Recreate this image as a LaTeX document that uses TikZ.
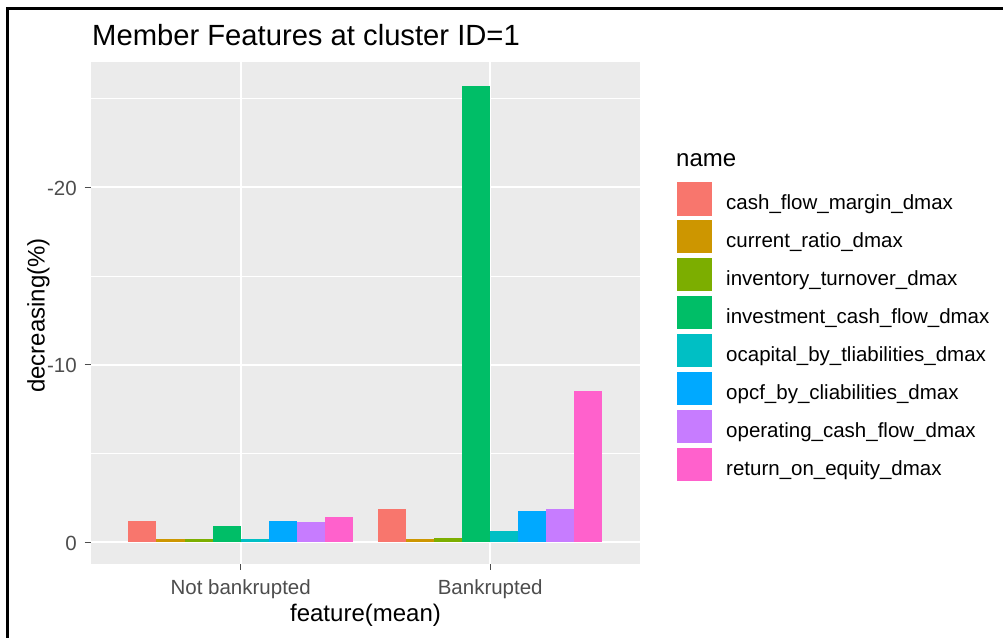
\documentclass[tikz,border=0pt]{standalone}
\usepackage{fontspec}
\setmainfont{Liberation Sans}
\definecolor{k1}{HTML}{F8766D}
\definecolor{k2}{HTML}{CD9600}
\definecolor{k3}{HTML}{7CAE00}
\definecolor{k4}{HTML}{00BE67}
\definecolor{k5}{HTML}{00BFC4}
\definecolor{k6}{HTML}{00A9FF}
\definecolor{k7}{HTML}{C77CFF}
\definecolor{k8}{HTML}{FF61CC}
\definecolor{panelbg}{HTML}{EBEBEB}
\definecolor{tickgray}{HTML}{4D4D4D}
\tikzset{
  majorgrid/.style={white, line width=2.2pt},
  minorgrid/.style={white, line width=1.1pt},
  tickmark/.style={tickgray, line width=1.1pt},
  ticklabel/.style={text=tickgray, inner sep=0pt, font=\fontsize{20.5}{24}\selectfont},
  axtitle/.style={inner sep=0pt, font=\fontsize{24}{28}\selectfont},
  legtext/.style={inner sep=0pt, anchor=base west, font=\fontsize{20.5}{24}\selectfont},
  legkey/.style={draw=white, line width=0.8pt},
}
\begin{document}
\begin{tikzpicture}[x=1pt,y=-1pt]
\useasboundingbox (0,0) rectangle (1003,637);
\fill[white] (0,0) rectangle (1003,637);
% outer frame
\draw[line width=2.7pt] (7.3,640) -- (7.3,8.7) -- (1006,8.7);
% panel
\fill[panelbg] (91,62) rectangle (640,564);
\foreach \v in {5,15,25} \draw[minorgrid] (91,542.3-\v*17.75) -- (640,542.3-\v*17.75);
\foreach \v in {0,10,20} \draw[majorgrid] (91,542.3-\v*17.75) -- (640,542.3-\v*17.75);
\draw[majorgrid] (240.7,62) -- (240.7,564);
\draw[majorgrid] (490.2,62) -- (490.2,564);
% bars: not bankrupted
\foreach \v [count=\i] in {1.22,0.16,0.16,0.94,0.16,1.22,1.13,1.41}
  \fill[k\i] (128.4+\i*28.07-28.07,542.3) rectangle (128.4+\i*28.07,542.3-\v*17.75);
% bars: bankrupted
\foreach \v [count=\i] in {1.88,0.16,0.22,25.72,0.66,1.78,1.88,8.5}
  \fill[k\i] (377.9+\i*28.07-28.07,542.3) rectangle (377.9+\i*28.07,542.3-\v*17.75);
% axes ticks
\foreach \v in {0,10,20} \draw[tickmark] (84.5,542.3-\v*17.75) -- (91,542.3-\v*17.75);
\draw[tickmark] (240.7,564) -- (240.7,570);
\draw[tickmark] (490.2,564) -- (490.2,570);
\node[ticklabel, anchor=base east] (y0) at (77,550.3) {0};
\node[ticklabel, anchor=base east] (y10) at (77,372.8) {-10};
\node[ticklabel, anchor=base east] (y20) at (77,195.3) {-20};
\node[ticklabel, anchor=base] (xnb) at (240.7,594.3) {Not bankrupted};
\node[ticklabel, anchor=base] (xb) at (490.2,594.3) {Bankrupted};
% axis titles
\node[axtitle, anchor=base] (xt) at (365.5,621.5) {feature(mean)};
\node[axtitle, anchor=base, rotate=90] (yt) at (44.5,315.5) {decreasing(\%)};
% title
\node[inner sep=0pt, anchor=base west, font=\fontsize{29.2}{33}\selectfont] (title) at (92,45.7) {Member Features at cluster ID=1};
% legend
\node[inner sep=0pt, anchor=base west, font=\fontsize{24}{28}\selectfont] (legtitle) at (676,166.5) {name};
\foreach \lab [count=\i] in {cash\_flow\_margin\_dmax, current\_ratio\_dmax, inventory\_turnover\_dmax, investment\_cash\_flow\_dmax, ocapital\_by\_tliabilities\_dmax, opcf\_by\_cliabilities\_dmax, operating\_cash\_flow\_dmax, return\_on\_equity\_dmax}{
  \pgfmathsetmacro{\yc}{198.8+(\i-1)*37.96}
  \fill[k\i] (676,\yc-17.5) rectangle (712.5,\yc+17.5);
  \draw[legkey] (676.4,\yc-17.1) rectangle (712.1,\yc+17.1);
  \node[legtext] (lab\i) at (726,\yc+10.5) {\lab};
}
\end{tikzpicture}
\end{document}
